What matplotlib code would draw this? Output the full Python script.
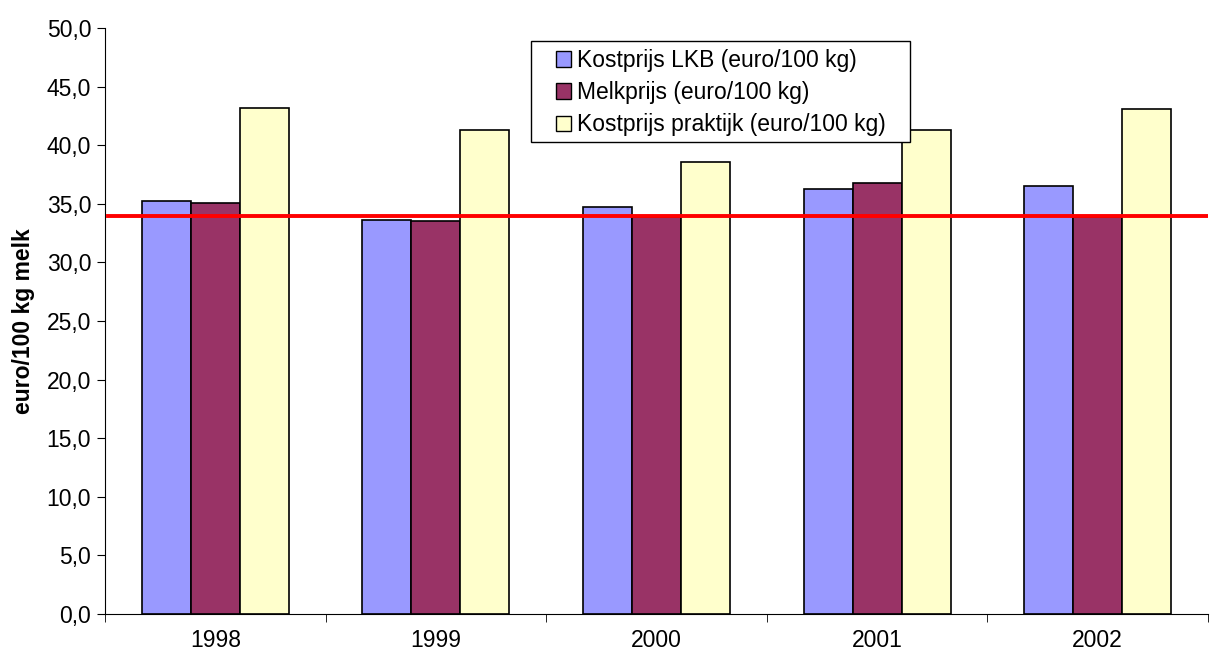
import matplotlib
matplotlib.use("Agg")
import matplotlib.pyplot as plt
import matplotlib.patches as mpatches
import numpy as np

years = ["1998", "1999", "2000", "2001", "2002"]
kostprijs_lkb = [35.2, 33.6, 34.7, 36.3, 36.5]
melkprijs = [35.1, 33.5, 33.9, 36.8, 33.9]
kostprijs_praktijk = [43.2, 41.3, 38.6, 41.3, 43.1]
ref_line = 34.0
series_labels = ["Kostprijs LKB (euro/100 kg)", "Melkprijs (euro/100 kg)",
                 "Kostprijs praktijk (euro/100 kg)"]
colors = ["#9999FF", "#993366", "#FFFFCC"]
yticks = np.arange(0, 50.1, 5)

plt.rcParams['font.family'] = ['Liberation Sans', 'DejaVu Sans']

W, H = 1220, 655
fig = plt.figure(figsize=(W/100, H/100), dpi=100)
ax = fig.add_axes([105/W, 1-614/H, (1208-105)/W, (614-28)/H])

x = np.arange(len(years))
w = 1/4.5
handles = []
for i, (vals, lab, c) in enumerate(zip([kostprijs_lkb, melkprijs, kostprijs_praktijk], series_labels, colors)):
    ax.bar(x + (i-1)*w, vals, width=w, color=c, edgecolor="black", linewidth=1.2, label=lab, zorder=2)
    handles.append(mpatches.Patch(facecolor=c, edgecolor="black", linewidth=1.0))

ax.axhline(ref_line, xmin=0.003, xmax=1.0, color="#FF0000", linewidth=2.8, zorder=3)

ax.set_xlim(-0.5, len(years)-0.5)
ax.set_ylim(0, 50)
ax.set_yticks(yticks)
ax.set_yticklabels([f"{v:.1f}".replace(".", ",") for v in yticks], fontsize=16.5)
ax.set_xticks(x)
ax.set_xticklabels(years, fontsize=16.5)
ax.tick_params(axis='x', length=0, pad=11)
ax.set_xticks(np.arange(-0.5, len(years)), minor=True)
ax.tick_params(axis='x', which='minor', length=6, direction='out', color="#000000")
ax.tick_params(axis='y', length=6, direction='out', pad=4)
for s in ["top", "right"]:
    ax.spines[s].set_visible(False)
ax.spines["left"].set_color("#000000")
ax.spines["bottom"].set_color("#000000")
ax.set_ylabel("euro/100 kg melk", fontsize=16.5, fontweight="bold", labelpad=8)

# legend frame (drawn separately for Excel-like padding)
frame = mpatches.Rectangle((530.7/W, 1-141.7/H), (910-530.7)/W, (141.7-40.7)/H,
                           transform=fig.transFigure, facecolor="white",
                           edgecolor="black", linewidth=1.0, zorder=4)
fig.add_artist(frame)

leg = fig.legend(handles, series_labels, loc="upper left",
                 bbox_to_anchor=(556/W, 1-49/H),
                 fontsize=16.5, frameon=False,
                 handlelength=0.65, handleheight=0.65, handletextpad=0.26,
                 labelspacing=0.4, borderpad=0, borderaxespad=0)
leg.set_zorder(5)

fig.savefig("out.png", dpi=100)
